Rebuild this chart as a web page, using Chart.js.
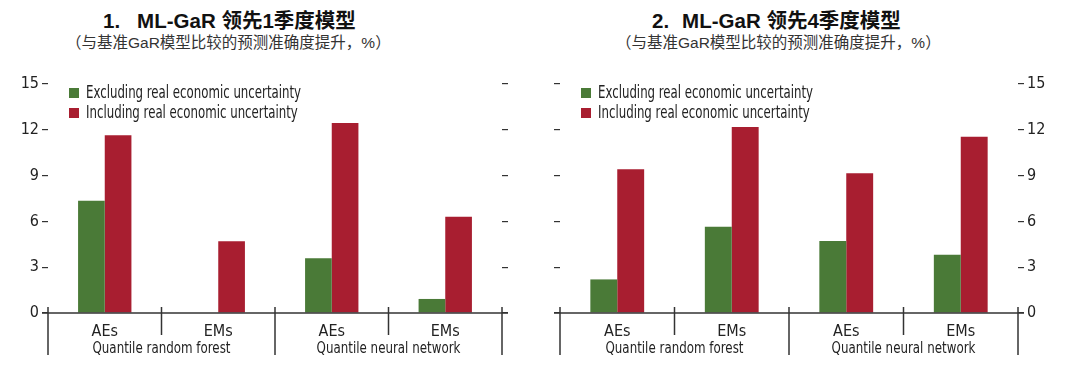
<!DOCTYPE html>
<html>
<head>
<meta charset="utf-8">
<script src="https://cdn.jsdelivr.net/npm/chart.js@4/dist/chart.umd.min.js"></script>
<style>
  body { margin: 0; background: #fff; }
  #wrap { position: relative; width: 1080px; height: 373px; overflow: hidden; }
  .panel { position: absolute; top: 0; width: 540px; height: 373px; }
  .title { position: absolute; top: 7px; white-space: nowrap;
           font-family: "Liberation Sans", "Noto Sans CJK SC", sans-serif; font-weight: bold; font-size: 20.5px; color: #111; line-height: 28px; }
  .sub { position: absolute; top: 33px; white-space: nowrap;
         font-family: "Liberation Sans", "Noto Sans CJK SC", sans-serif; font-size: 15.5px; color: #333; line-height: 20px; }
  canvas { position: absolute; left: 0; top: 0; }
</style>
</head>
<body>
<div id="wrap">
  <div class="panel" style="left:0">
    <div class="title" style="left:103px"><span style="margin-right:17px">1.</span>ML-GaR 领先1季度模型</div>
    <div class="sub" style="left:66px">（与基准GaR模型比较的预测准确度提升，%）</div>
    <canvas id="c1" width="540" height="373"></canvas>
  </div>
  <div class="panel" style="left:540px">
    <div class="title" style="left:112px"><span style="margin-right:13px">2.</span>ML-GaR 领先4季度模型</div>
    <div class="sub" style="left:76px">（与基准GaR模型比较的预测准确度提升，%）</div>
    <canvas id="c2" width="540" height="373"></canvas>
  </div>
</div>
<script>
// datos
const categories = ['AEs', 'EMs', 'AEs', 'EMs'];
const groups = ['Quantile random forest', 'Quantile neural network'];
const seriesNames = ['Excluding real economic uncertainty', 'Including real economic uncertainty'];
const seriesColors = ['#4a7a37', '#a81e30'];

// panel 1: un trimestre
const excl1 = [7.35, 0, 3.58, 0.92];
const incl1 = [11.64, 4.70, 12.44, 6.31];
// panel 2: cuatro trimestres
const excl4 = [2.2, 5.65, 4.72, 3.82];
const incl4 = [9.41, 12.18, 9.15, 11.55];

const yMin = 0, yMax = 15, yStep = 3;

const narrow = "'DejaVu Sans Condensed', sans-serif";
const ink = '#333';

// texto comprimido (la fuente original es condensada)
function textoAngosto(ctx, txt, x, y, k) {
    ctx.save();
    ctx.translate(x, y);
    ctx.scale(k, 1);
    ctx.fillText(txt, 0, 0);
    ctx.restore();
}

// lineas, grupos y leyenda
const extrasPlugin = {
    id: 'extras',
    afterDraw(chart) {
        const ctx = chart.ctx;
        const area = chart.chartArea;
        const xs = chart.scales.x;
        const ys = chart.scales.y;
        const y0 = ys.getPixelForValue(0);
        ctx.save();
        // linea cero
        ctx.strokeStyle = ink;
        ctx.lineWidth = 1.5;
        ctx.beginPath();
        ctx.moveTo(area.left - 6, y0);
        ctx.lineTo(area.right + 6, y0);
        ctx.stroke();
        // separadores
        for (let i = 0; i <= categories.length; i++) {
            const x = xs.getPixelForValue(i - 0.5);
            const len = (i % 2 === 0) ? 42 : 22;
            ctx.beginPath();
            ctx.moveTo(x, y0 - 6);
            ctx.lineTo(x, y0 + len);
            ctx.stroke();
        }
        // etiquetas de grupo
        ctx.fillStyle = '#222';
        ctx.font = '16.5px ' + narrow;
        ctx.textAlign = 'center';
        ctx.textBaseline = 'middle';
        groups.forEach((g, gi) => {
            textoAngosto(ctx, g, xs.getPixelForValue(gi * 2 + 0.5), y0 + 36, 0.8);
        });
        // leyenda
        ctx.font = '17px ' + narrow;
        ctx.textAlign = 'left';
        chart.data.datasets.forEach((ds, i) => {
            const cy = area.top + 9 + i * 20;
            ctx.fillStyle = ds.backgroundColor;
            ctx.fillRect(area.left + 21, cy - 5, 10, 10);
            ctx.fillStyle = '#222';
            textoAngosto(ctx, ds.label, area.left + 38, cy + 1, 0.77);
        });
        ctx.restore();
    }
};

function hacerPanel(id, excl, incl, leftW, rightW, labelsRight) {
    const tickFont = { family: narrow, size: 16 };
    return new Chart(document.getElementById(id), {
        type: 'bar',
        data: {
            labels: categories,
            datasets: [
                { label: seriesNames[0], data: excl, backgroundColor: seriesColors[0] },
                { label: seriesNames[1], data: incl, backgroundColor: seriesColors[1] }
            ]
        },
        options: {
            responsive: false,
            animation: false,
            layout: { padding: { top: 84, bottom: 0, left: 0, right: 0 } },
            datasets: { bar: { barPercentage: 1, categoryPercentage: 0.47 } },
            plugins: { legend: { display: false }, tooltip: { enabled: false } },
            scales: {
                x: {
                    grid: { display: false },
                    border: { display: false },
                    ticks: { color: '#222', font: tickFont, padding: 1, maxRotation: 0 },
                    afterFit: s => { s.height = 60; }
                },
                y: {
                    position: 'left',
                    min: yMin, max: yMax,
                    ticks: { stepSize: yStep, display: !labelsRight, color: '#222', font: tickFont, padding: 3 },
                    grid: { drawOnChartArea: false, tickLength: 6, color: ink, lineWidth: 1.2 },
                    border: { display: false },
                    afterFit: s => { s.width = leftW; }
                },
                y2: {
                    type: 'linear',
                    position: 'right',
                    min: yMin, max: yMax,
                    ticks: { stepSize: yStep, display: labelsRight, color: '#222', font: tickFont, padding: 3 },
                    grid: { drawOnChartArea: false, tickLength: 6, color: ink, lineWidth: 1.2 },
                    border: { display: false },
                    afterFit: s => { s.width = rightW; }
                }
            }
        },
        plugins: [extrasPlugin]
    });
}

hacerPanel('c1', excl1, incl1, 48, 38, false);
hacerPanel('c2', excl4, incl4, 20, 62, true);
</script>
</body>
</html>
